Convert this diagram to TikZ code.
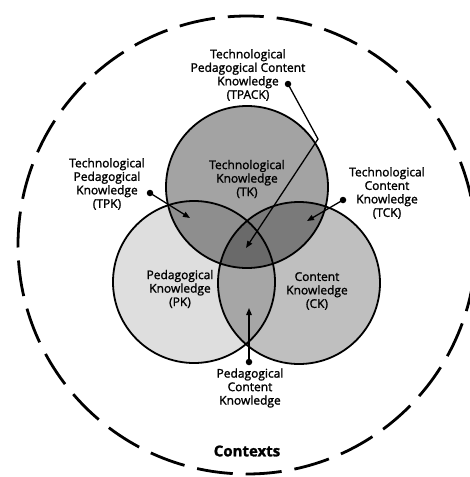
\documentclass[tikz,border=0pt]{standalone}
\usepackage{fontspec}
\setmainfont{Open Sans}[FakeBold=1.6]
\usetikzlibrary{arrows.meta, shapes, positioning}

\tikzset{
    knowledge/.style={shape=circle, draw=black, line width=1.8pt, fill=black, minimum size=162pt, inner sep=0pt},
    ktext/.style={align=center, font=\fontsize{12}{13.5}\selectfont},
    ptdot/.style={shape=circle, fill=black, inner sep=0pt, minimum size=6.5pt},
    pointer/.style={line width=1.3pt, -{Triangle[length=7pt, width=5.5pt]}},
}

\begin{document}
\begin{tikzpicture}[x=1pt, y=-1pt]
    \useasboundingbox (0,0) rectangle (470,477);

    % contexts
    \node[shape=circle, draw=black, line width=2.8pt, dash pattern=on 36pt off 13pt, minimum size=458pt, inner sep=0pt] (ctx) at (247,245) {};
    \node[font=\fontsize{15}{18}\selectfont\bfseries] (contexts) at (247,451) {Contexts};

    % the three circles
    \node[knowledge, fill opacity=0.36] (TK) at (247,187) {};
    \node[knowledge, fill opacity=0.13] (PK) at (194,282) {};
    \node[knowledge, fill opacity=0.25] (CK) at (299,283) {};

    \node[ktext] (tklabel) at (247,179) {Technological\\Knowledge\\(TK)};
    \node[ktext] (pklabel) at (180,289) {Pedagogical\\Knowledge\\(PK)};
    \node[ktext] (cklabel) at (317,291) {Content\\Knowledge\\(CK)};

    % outside labels
    \node[ktext] (tpacklabel) at (248,75)  {Technological\\Pedagogical Content\\Knowledge\\(TPACK)};
    \node[ktext] (tpklabel)   at (107,184) {Technological\\Pedagogical\\Knowledge\\(TPK)};
    \node[ktext] (tcklabel)   at (387,193) {Technological\\Content\\Knowledge\\(TCK)};
    \node[ktext] (pcklabel)   at (250,388) {Pedagogical\\Content\\Knowledge};

    % pointers
    \node[ptdot] (tpackdot) at (288,84)  {};
    \node[ptdot] (tpkdot)   at (150,193) {};
    \node[ptdot] (tckdot)   at (343,200) {};
    \node[ptdot] (pckdot)   at (249,362) {};
    \coordinate (tpackbend) at (318,139);
    \coordinate (tpacktip)  at (246,248);
    \coordinate (tpktip)    at (190,218);
    \coordinate (tcktip)    at (307,221);
    \coordinate (pcktip)    at (249,308);
    \draw[pointer] (tpackdot.center) -- (tpackbend) -- (tpacktip);
    \draw[pointer] (tpkdot.center) -- (tpktip);
    \draw[pointer] (tckdot.center) -- (tcktip);
    \draw[pointer] (pckdot.center) -- (pcktip);
\end{tikzpicture}
\end{document}
